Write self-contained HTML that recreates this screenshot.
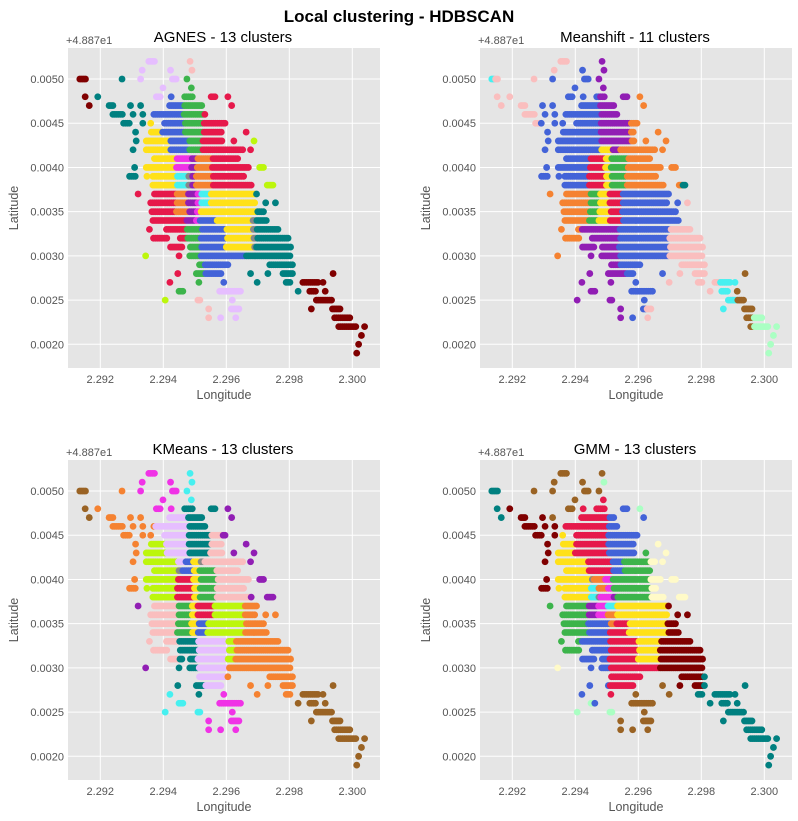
<!DOCTYPE html>
<html><head><meta charset="utf-8">
<style>
html,body{margin:0;padding:0;background:#fff;}
svg{display:block;font-family:"Liberation Sans",sans-serif;}
</style></head>
<body>
<svg id="fig" width="798" height="821" viewBox="0 0 798 821">
<text x="399" y="22" text-anchor="middle" font-size="17" font-weight="bold" fill="#000">Local clustering - HDBSCAN</text>
</svg>
<script>
// Point cloud rows: latitude offset (1e-4 units above 48.87) and segments in longitude (1e-4 units above 2.292)
const rowLat = [52,51,50,49,48,47,46,45,44,43,42,41,40,39,38,37,36,35,34,33,32,31,30,29,28,27,26,25,24,23,22,21,20,19];
const rowSegs = [
 [[15.4,17.2],[28.5,28.5]],
 [[13.3,13.3],[22.3,22.3],[29.1,29.1]],
 [[-6.5,-4.5],[6.9,6.9],[12.8,12.8],[22.9,24.2],[27.5,27.5]],
 [[19.9,19.9],[28.9,28.9]],
 [[-4.8,-4.8],[-0.8,-0.8],[17.8,19.4],[22.5,22.5],[26.8,29.4],[35.2,36.8],[40.5,40.5]],
 [[-3.5,-3.5],[2.8,4],[9.6,9.6],[12.8,12.8],[22,32.6],[41.7,41.7]],
 [[4,7.2],[10.4,10.4],[13.5,13.5],[17,33.7]],
 [[7.4,9.3],[13.5,13.5],[16,16],[20.4,40]],
 [[11.2,11.2],[16.2,38.9],[46.3,46.3]],
 [[11.4,11.4],[14.6,38.9],[42.4,42.4],[48.8,48.8]],
 [[10.4,10.9],[14.6,45.3],[47.7,47.7]],
 [[17.2,43.9]],
 [[10.9,10.9],[14.6,47.4],[50.6,52.2]],
 [[9.3,11.4],[14.8,14.8],[16.7,45.6]],
 [[16.7,47.9],[53,55]],
 [[12,12],[17.2,49.7]],
 [[16,49.5],[52.5,52.5],[55.6,55.6]],
 [[16.4,52.2]],
 [[16.7,53.2]],
 [[15.6,15.6],[21,56.9]],
 [[16.9,21.2],[25.4,60.1]],
 [[22.3,26.2],[28.6,60.4]],
 [[14.4,14.4],[25,25],[28.4,60.6]],
 [[31.5,40.5],[53.8,61.5]],
 [[24.6,24.6],[30.5,38.4],[47.7,47.7],[53.2,53.2],[58,61.2],[73.9,73.9]],
 [[22.1,22.1],[31.3,31.3],[39.2,39.2],[49.8,49.8],[59,60.6],[64.3,69.6],[70.7,70.7]],
 [[25,26.6],[37.9,44.8],[62.8,62.8],[66.5,68.6],[71.4,71.4]],
 [[20.6,20.6],[31,32.1],[41.9,41.9],[68.6,73.9]],
 [[34.4,34.4],[41.6,44.2],[67,67],[73.7,76.3]],
 [[34.4,34.4],[38.2,38.2],[43,43],[74.4,79.7]],
 [[75.7,81.3],[83.9,83.9]],
 [[82.9,82.9]],
 [[82,82]],
 [[81.4,81.4]]
];
const C={teal:'#008080',maroon:'#800000',lav:'#e6beff',pink:'#fabebe',green:'#3cb44b',crim:'#e6194b',blue:'#4363d8',yel:'#ffe119',ora:'#f58231',pur:'#911eb4',cyan:'#46f0f0',mag:'#f032e6',lime:'#bcf60c',brown:'#9a6324',mint:'#aaffc3',beige:'#fffac8'};
// cluster regions per panel: [x0,x1,lat0,lat1,colour], first match wins
const rulesAgnes = [
 [-10,-2,40,60,'maroon'],[63.5,100,0,28.5,'maroon'],[-2,12,38,51,'teal'],[12,14,42,48,'teal'],
 [10,26,48.5,53,'lav'],[27,30,50.5,53,'pink'],[26,30,48.5,50.5,'green'],[17,20,47.5,48.5,'lav'],
 [14,19.5,43.5,45.5,'yel'],[16.5,26.5,43.5,48.5,'blue'],[26.5,33,43.5,48.5,'green'],[33,50,43.5,48.5,'crim'],
 [14,22,41.5,43.5,'yel'],[22,28,41.5,43.5,'blue'],[28,32.5,41.5,43.5,'green'],[48,50,42.5,43.5,'lime'],[32.5,48,41.5,43.5,'crim'],
 [14,24,37.5,41.5,'yel'],[24,28,37.5,39.5,'cyan'],[24,29,39.5,41.5,'mag'],[29,30.5,37.5,41.5,'pur'],[30.5,35.5,37.5,41.5,'ora'],[50,56,37.5,40.5,'lime'],[35.5,50,37.5,41.5,'crim'],
 [10,24,34.5,37.5,'crim'],[24,28,34.5,37.5,'ora'],[28,30.5,34.5,37.5,'pur'],[30.5,32,34.5,37.5,'mag'],[32,35,35.5,37.5,'cyan'],[49.5,63.5,29.5,37.5,'teal'],[32,49.5,34.5,37.5,'yel'],
 [13,15,29.5,30.5,'lime'],[10,27.5,33.5,34.5,'crim'],[27.5,30,33.5,34.5,'pur'],[30,31.5,33.5,34.5,'mag'],[31.5,37,33.5,34.5,'blue'],
 [10,27.5,29.5,33.5,'crim'],[27.5,32,29.5,33.5,'green'],[32,40,30.5,33.5,'blue'],[32,46,29.5,30.5,'blue'],[45.5,64,29.5,30.5,'teal'],[37,48.5,30.5,34.5,'yel'],
 [20,27,26.5,29.5,'crim'],[25,33,25.5,29.5,'green'],[33,45,26.5,29.5,'blue'],[45,64,25.5,29.5,'teal'],[36,46,22,26.5,'lav'],[30,35.5,22,25.5,'pink'],[19,22,24.5,25.5,'lime']
];
const rulesMeanshift = [
 [-10,-5.5,49.5,50.5,'cyan'],[-10,9,44.5,51,'pink'],[9,18,50.5,53,'pink'],[26,40,48.5,53,'pur'],
 [9,28,41.5,51,'blue'],[38,60,45.5,48.5,'ora'],[26,37.5,42.5,48.5,'pur'],
 [28,31.5,41.5,42.5,'yel'],[31.5,34,41.5,42.5,'pur'],[9,24.5,37.5,41.5,'blue'],[24.5,29.5,37.5,41.5,'crim'],[29.5,31.2,37.5,42.5,'yel'],[31.2,36.5,37.5,41.5,'green'],
 [54,57,37.5,38.5,'teal'],[33,60,37.5,45.5,'ora'],
 [10,24.5,33.5,37.5,'ora'],[24.5,27.5,33.5,37.5,'green'],[27.5,31,33.5,37.5,'yel'],[31,35,33.5,37.5,'crim'],[54,60,35.5,36.5,'pink'],[35,60,33.5,37.5,'blue'],
 [10,22,29.5,33.5,'ora'],[22,34,27.5,33.5,'pur'],[50,63,28.5,33.5,'pink'],[32,50,28.5,33.5,'blue'],
 [65.5,71.2,23.5,27.5,'cyan'],[76.5,100,17,23.5,'mint'],[70,80,21.5,28.5,'brown'],[42.8,44.5,22.5,24.5,'pink'],[36,47.9,22.5,28.5,'blue'],[10,36,22.5,28.5,'pur'],[49,66,26.5,28.5,'pink'],[62,64,25.5,26.5,'pink']
];
const rulesKMeans = [
 [-10,-2,40,60,'brown'],[61.5,100,0,28.5,'brown'],[10,25,48.5,53,'mag'],[26,31,48.5,53,'cyan'],[-2,10,48.5,53,'ora'],
 [16,24,47.5,48.5,'mag'],[25,38,47.5,48.5,'teal'],[39,60,42.5,48.5,'pur'],[-2,17,44.5,48.5,'ora'],[-2,13,38.5,44.5,'ora'],
 [13,21,42.5,44.5,'lime'],[17,28,42.5,47.5,'lav'],[28,35,42.5,47.5,'teal'],[34,45,42.5,45.5,'pink'],
 [13,24.5,37.5,42.5,'lime'],[24.5,27,41.5,42.5,'lav'],[24,29.5,37.5,40.5,'crim'],[26,29.5,40.5,42.5,'blue'],[29.5,31.5,37.5,42.5,'yel'],[31.5,37,37.5,41.5,'green'],[33,47,41.5,42.5,'pink'],[37,47.5,37.5,41.5,'pink'],[47.5,60,37.5,42.5,'pur'],
 [10,14,36.5,37.5,'pur'],[10,24.5,33.5,37.5,'pink'],[24.5,29,33.5,37.5,'green'],[29,31,33.5,37.5,'yel'],[31,34,33.5,35.5,'blue'],[31,36,35.5,37.5,'crim'],[34,46,33.5,37.5,'lime'],[46,60,33.5,37.5,'ora'],
 [13,16,29.5,30.5,'pur'],[10,25,30.5,33.5,'pink'],[22,31,28.5,33.5,'teal'],[31,40.5,28.5,33.5,'lav'],[40.5,43,30.5,33.5,'lime'],[40,63,28.5,33.5,'ora'],
 [28,33,26.5,29.5,'teal'],[22,28,27.5,28.5,'teal'],[33,40,27.5,28.5,'lav'],[45,62,26.5,28.5,'ora'],[18,33,24.5,27.5,'cyan'],[33,50,22,27.5,'mag']
];
const rulesGMM = [
 [-10,-2,40,60,'teal'],[60.5,100,0,29.5,'teal'],[58.5,100,0,27.5,'teal'],[28.5,30,50.5,51.5,'mint'],[39,42,47.5,48.5,'mint'],
 [5,28.5,48.5,53,'brown'],[28,30,48.5,49.5,'crim'],[15,20,47.5,48.5,'brown'],[12,14,46.5,47.5,'brown'],[-2,14,38.5,48,'maroon'],
 [14,20,42.5,45.5,'yel'],[17,30.5,43.5,48.5,'crim'],[30.5,42,43.5,48.5,'blue'],[44,60,37.5,44.5,'beige'],[40,46,42.5,43.5,'green'],
 [20,30.5,42.5,43.5,'crim'],[30.5,40,42.5,43.5,'blue'],[14,24,40.5,42.5,'yel'],[24,32,40.5,42.5,'crim'],[32,35.5,40.5,42.5,'blue'],[35.5,50,40.5,42.5,'green'],
 [14,25,37.5,40.5,'yel'],[24,27.5,37.5,39.5,'cyan'],[26,29.5,39.5,40.5,'ora'],[27,30,38.5,39.5,'ora'],[28,32,37.5,40.5,'mag'],[30,33,37.5,38.5,'pur'],[32,50,37.5,40.5,'green'],
 [10,24,33.5,37.5,'green'],[24,27,35.5,37.5,'pur'],[24,31,33.5,35.5,'blue'],[26,30,35.5,37.5,'mag'],[30,33,36.5,37.5,'cyan'],[30,33,34.5,36.5,'ora'],[31,37,33.5,35.5,'crim'],[33,49.2,33.5,37.5,'yel'],[49.2,60,33.5,37.5,'maroon'],
 [10,22,31.5,33.5,'green'],[13,16,29.5,30.5,'beige'],[20,31,28.5,33.5,'blue'],[40,47,30.5,33.5,'yel'],[47,61,28.5,33.5,'maroon'],[31,40,28.5,33.5,'crim'],[40,47,28.5,30.5,'crim'],
 [26,28,25.5,26.5,'blue'],[18,32,24.5,26.5,'mint'],[20,31,26.5,28.5,'blue'],[31,38.5,26.5,28.5,'crim'],[52,61,27.5,28.5,'maroon'],[31.5,57,22,28.5,'brown']
];
const panelTitles = ['AGNES - 13 clusters','Meanshift - 11 clusters','KMeans - 13 clusters','GMM - 13 clusters'];
const xTicks = [2.292,2.294,2.296,2.298,2.300];
const yTicks = [0.0020,0.0025,0.0030,0.0035,0.0040,0.0045,0.0050];

const NS='http://www.w3.org/2000/svg';
const svg=document.getElementById('fig');
const X0=2.290975, X1=2.300879, Y0=0.001732, Y1=0.005351, W=312, H=320;
function mk(tag,attrs,parent){const e=document.createElementNS(NS,tag);for(const k in attrs)e.setAttribute(k,attrs[k]);parent.appendChild(e);return e;}
function colourFor(rules,x,lat){for(const r of rules){if(x>=r[0]&&x<=r[1]&&lat>=r[2]&&lat<=r[3])return C[r[4]];}return '#888';}
const panels=[[68,48,rulesAgnes],[480,48,rulesMeanshift],[68,460,rulesKMeans],[480,460,rulesGMM]];
panels.forEach((p,i)=>{
 const px=p[0],py=p[1],rules=p[2];
 const xs=v=>px+(v-X0)/(X1-X0)*W;
 const ys=v=>py+(Y1-v)/(Y1-Y0)*H;
 const g=mk('g',{},svg);
 
 
 const bg=mk('rect',{x:px,y:py,width:W,height:H,fill:'#e5e5e5'},g);
 
 
 xTicks.forEach(t=>{
  const l=mk('line',{x1:xs(t),x2:xs(t),y1:py,y2:py+H,stroke:'#fff','stroke-width':1},g);
  
  
  const tx=mk('text',{x:xs(t),y:py+H+15,'text-anchor':'middle','font-size':11,fill:'#555'},g);
  tx.textContent=t.toFixed(3);
  
  
 });
 yTicks.forEach(t=>{
  const l=mk('line',{x1:px,x2:px+W,y1:ys(t),y2:ys(t),stroke:'#fff','stroke-width':1},g);
  
  
  const tx=mk('text',{x:px-4,y:ys(t)+4,'text-anchor':'end','font-size':11,fill:'#555'},g);
  tx.textContent=t.toFixed(4);
  
  
 });
 const off=mk('text',{x:px-2,y:py-4,'font-size':11,fill:'#555'},g);
 off.textContent='+4.887e1';
 
 
 const tt=mk('text',{x:px+W/2-1,y:py-6,'text-anchor':'middle','font-size':15,fill:'#000'},g);
 tt.textContent=panelTitles[i];
 
 
 const xl=mk('text',{x:px+W/2,y:py+H+31,'text-anchor':'middle','font-size':12.5,fill:'#555'},g);
 xl.textContent='Longitude';
 
 
 const yl=mk('text',{x:0,y:0,'text-anchor':'middle','font-size':12.5,fill:'#555',transform:'translate('+(px-50)+','+(py+H/2)+') rotate(-90)'},g);
 yl.textContent='Latitude';
 
 
 const pts=mk('g',{},g);
 
 
 rowLat.forEach((lat,ri)=>{
  rowSegs[ri].forEach(seg=>{
   for(let x=seg[0];x<=seg[1]+1e-6;x+=0.6){
    const c=mk('circle',{cx:xs(2.292+x/10000),cy:ys(lat/10000),r:3.4,fill:colourFor(rules,x,lat)},pts);
    
    
   }
  });
 });
});
</script>
</body></html>
